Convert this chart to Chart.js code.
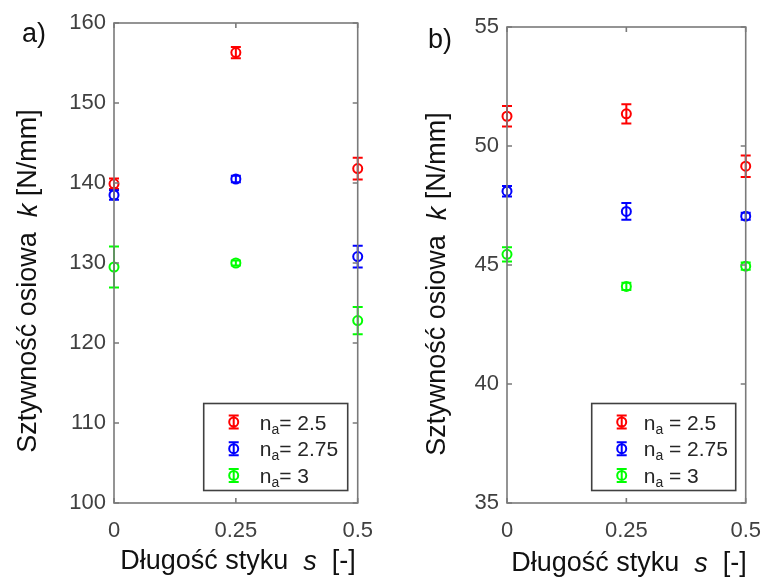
<!DOCTYPE html>
<html>
<head>
<meta charset="utf-8">
<script src="https://cdn.jsdelivr.net/npm/chart.js@4.4.1/dist/chart.umd.min.js"></script>
<style>
  html, body { margin: 0; padding: 0; background: #ffffff; }
  #wrap { position: relative; width: 776px; height: 580px; overflow: hidden; }
  canvas { position: absolute; top: 0; }
</style>
</head>
<body>
<div id="wrap">
  <canvas id="chartA" width="388" height="580" style="left:0px"></canvas>
  <canvas id="chartB" width="388" height="580" style="left:388px"></canvas>
</div>
<script>
// ---------------- DATA ----------------
const sValues = [0, 0.25, 0.5];
const xTicks = [0, 0.25, 0.5];
const xTickLabels = ['0', '0.25', '0.5'];
const naLabels = ['2.5', '2.75', '3'];

// panel a)
const yTicksA = [100, 110, 120, 130, 140, 150, 160];
const kA_na25 = [139.9, 156.3, 141.8];
const kA_na25_err = [0.65, 0.7, 1.35];
const kA_na275 = [138.5, 140.5, 130.8];
const kA_na275_err = [0.6, 0.4, 1.35];
const kA_na3 = [129.5, 130.0, 122.8];
const kA_na3_err = [2.55, 0.3, 1.7];

// panel b)
const yTicksB = [35, 40, 45, 50, 55];
const kB_na25 = [51.25, 51.35, 49.15];
const kB_na25_err = [0.43, 0.4, 0.45];
const kB_na275 = [48.1, 47.25, 47.05];
const kB_na275_err = [0.22, 0.35, 0.15];
const kB_na3 = [45.45, 44.1, 44.95];
const kB_na3_err = [0.3, 0.15, 0.15];

// ---------------- STYLE ----------------
const FONT = '"Liberation Sans", Arial, Helvetica, sans-serif';
const COLORS = ['#ff0000', '#0000ff', '#00ff00'];
const AXIS_COLOR = '#7a7a7a';
const TICK_TEXT = '#404040';
const MARK_LW = 2;

function drawSegments(ctx, segs, size, color) {
  let total = 0;
  const widths = segs.map(s => {
    ctx.font = (s.italic ? 'italic ' : '') + size + 'px ' + FONT;
    const w = ctx.measureText(s.t).width;
    total += w;
    return w;
  });
  let x = -total / 2;
  ctx.fillStyle = color;
  ctx.textBaseline = 'middle';
  ctx.textAlign = 'left';
  segs.forEach((s, i) => {
    ctx.font = (s.italic ? 'italic ' : '') + size + 'px ' + FONT;
    ctx.fillText(s.t, x, 0);
    x += widths[i];
  });
}

const decorPlugin = {
  id: 'decor',
  afterDatasetsDraw(chart) {
    const ctx = chart.ctx;
    const xs = chart.scales.x, ys = chart.scales.y;
    chart.data.datasets.forEach(ds => {
      ctx.save();
      ctx.strokeStyle = ds.borderColor;
      ctx.lineWidth = MARK_LW;
      ds.data.forEach((p, i) => {
        const e = ds.errors[i];
        const px = xs.getPixelForValue(p.x);
        const y1 = ys.getPixelForValue(p.y + e);
        const y2 = ys.getPixelForValue(p.y - e);
        ctx.beginPath();
        ctx.moveTo(px, y1); ctx.lineTo(px, y2);
        ctx.moveTo(px - 5, y1); ctx.lineTo(px + 5, y1);
        ctx.moveTo(px - 5, y2); ctx.lineTo(px + 5, y2);
        ctx.stroke();
      });
      ctx.restore();
    });
  },
  afterDraw(chart) {
    const ctx = chart.ctx;
    const a = chart.chartArea;
    const xs = chart.scales.x, ys = chart.scales.y;
    const opts = chart.options.plugins.decor;
    ctx.save();
    ctx.strokeStyle = AXIS_COLOR;
    ctx.lineWidth = 1.6;
    ctx.strokeRect(a.left, a.top, a.right - a.left, a.bottom - a.top);
    const tl = 5;
    ctx.beginPath();
    xs.ticks.forEach(t => {
      const px = xs.getPixelForValue(t.value);
      ctx.moveTo(px, a.bottom); ctx.lineTo(px, a.bottom - tl);
      ctx.moveTo(px, a.top); ctx.lineTo(px, a.top + tl);
    });
    ys.ticks.forEach(t => {
      const py = ys.getPixelForValue(t.value);
      ctx.moveTo(a.left, py); ctx.lineTo(a.left + tl, py);
      ctx.moveTo(a.right, py); ctx.lineTo(a.right - tl, py);
    });
    ctx.stroke();

    // legend
    const bw = 144, bh = 87;
    const bx = a.right - 10 - bw, by = a.bottom - 12.5 - bh;
    ctx.fillStyle = '#ffffff';
    ctx.fillRect(bx, by, bw, bh);
    ctx.strokeStyle = '#404040';
    ctx.lineWidth = 1.6;
    ctx.strokeRect(bx, by, bw, bh);
    chart.data.datasets.forEach((ds, i) => {
      const cy = by + 18.5 + i * 26.7;
      const mx = bx + 30;
      ctx.strokeStyle = ds.borderColor;
      ctx.lineWidth = MARK_LW;
      ctx.beginPath();
      ctx.arc(mx, cy, 4.5, 0, Math.PI * 2);
      ctx.moveTo(mx, cy - 6.5); ctx.lineTo(mx, cy + 6.5);
      ctx.moveTo(mx - 5, cy - 6.5); ctx.lineTo(mx + 5, cy - 6.5);
      ctx.moveTo(mx - 5, cy + 6.5); ctx.lineTo(mx + 5, cy + 6.5);
      ctx.stroke();
      let tx = bx + opts.legendTextX;
      ctx.fillStyle = '#262626';
      ctx.textBaseline = 'alphabetic';
      ctx.textAlign = 'left';
      ctx.font = '21px ' + FONT;
      const base = cy + 7.5;
      ctx.fillText('n', tx, base);
      tx += ctx.measureText('n').width;
      ctx.font = '14px ' + FONT;
      ctx.fillText('a', tx, base + 4);
      tx += ctx.measureText('a').width;
      ctx.font = '21px ' + FONT;
      ctx.fillText(opts.eqText + ds.naLabel, tx, base);
    });

    // axis titles
    ctx.save();
    ctx.translate(opts.yTitleX, opts.yTitleY);
    ctx.rotate(-Math.PI / 2);
    drawSegments(ctx, [
      { t: 'Sztywność osiowa  ', italic: false },
      { t: 'k', italic: true },
      { t: ' [N/mm]', italic: false }
    ], 27, '#111111');
    ctx.restore();

    ctx.save();
    ctx.translate(opts.xTitleX, opts.xTitleY);
    drawSegments(ctx, [
      { t: 'Długość styku  ', italic: false },
      { t: 's', italic: true },
      { t: '  [-]', italic: false }
    ], 27, '#111111');
    ctx.restore();

    ctx.fillStyle = '#111111';
    ctx.font = '27px ' + FONT;
    ctx.textAlign = 'center';
    ctx.textBaseline = 'middle';
    ctx.fillText(opts.panelLabel, opts.panelX, opts.panelY);
    ctx.restore();
  }
};

function makeDatasets(vals, errs) {
  return vals.map((v, si) => ({
    label: 'n_a = ' + naLabels[si],
    naLabel: naLabels[si],
    data: sValues.map((x, i) => ({ x: x, y: v[i] })),
    errors: errs[si],
    borderColor: COLORS[si],
    backgroundColor: 'rgba(0,0,0,0)',
    pointStyle: 'circle',
    pointRadius: 4.5,
    pointHoverRadius: 4.5,
    pointBorderWidth: MARK_LW,
    showLine: false,
    clip: false
  }));
}

function makeChart(id, cfg) {
  return new Chart(document.getElementById(id), {
    type: 'scatter',
    data: { datasets: makeDatasets(cfg.vals, cfg.errs) },
    plugins: [decorPlugin],
    options: {
      responsive: false,
      animation: false,
      events: [],
      layout: { padding: { top: cfg.top, right: cfg.right, left: 0, bottom: 0 } },
      plugins: {
        legend: { display: false },
        tooltip: { enabled: false },
        decor: cfg.decor
      },
      scales: {
        x: {
          type: 'linear',
          min: 0, max: 0.5,
          afterBuildTicks: s => { s.ticks = xTicks.map(v => ({ value: v })); },
          afterFit: s => { s.height = 580 - 503; },
          grid: { display: false, drawTicks: false },
          border: { display: false },
          ticks: {
            padding: 15,
            color: TICK_TEXT,
            font: { family: FONT, size: 22 },
            maxRotation: 0,
            callback: v => xTickLabels[xTicks.indexOf(v)]
          }
        },
        y: {
          type: 'linear',
          min: cfg.yTicks[0], max: cfg.yTicks[cfg.yTicks.length - 1],
          afterBuildTicks: s => { s.ticks = cfg.yTicks.map(v => ({ value: v })); },
          afterFit: s => { s.width = cfg.left; },
          grid: { display: false, drawTicks: false },
          border: { display: false },
          ticks: {
            padding: 8,
            color: TICK_TEXT,
            font: { family: FONT, size: 22 },
            callback: v => String(v)
          }
        }
      }
    }
  });
}

makeChart('chartA', {
  vals: [kA_na25, kA_na275, kA_na3],
  errs: [kA_na25_err, kA_na275_err, kA_na3_err],
  yTicks: yTicksA,
  top: 23, right: 22, left: 114,
  decor: { panelLabel: 'a)', panelX: 34, panelY: 35, yTitleX: 29, yTitleY: 281,
           xTitleX: 238, xTitleY: 562, legendTextX: 56, eqText: '= ' }
});

makeChart('chartB', {
  vals: [kB_na25, kB_na275, kB_na3],
  errs: [kB_na25_err, kB_na275_err, kB_na3_err],
  yTicks: yTicksB,
  top: 27, right: 20, left: 119,
  decor: { panelLabel: 'b)', panelX: 52, panelY: 41, yTitleX: 50, yTitleY: 284,
           xTitleX: 241, xTitleY: 564, legendTextX: 52, eqText: ' = ' }
});
</script>
</body>
</html>
